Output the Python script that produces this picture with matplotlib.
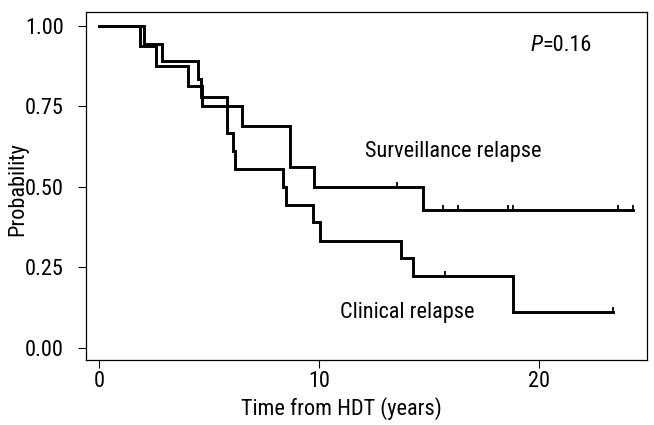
import matplotlib
matplotlib.use("Agg")
import matplotlib.pyplot as plt
import numpy as np
from matplotlib import font_manager

# Kaplan-Meier steps (years, probability after the step)
surv_times = [0, 1.86, 2.61, 4.05, 4.66, 6.52, 8.68, 9.77, 14.74, 24.25]
surv_probs = [1.0, 0.9375, 0.875, 0.8125, 0.75, 0.6875, 0.5625, 0.5, 0.4286, 0.4286]
surv_censored = [13.56, 15.62, 16.30, 18.60, 18.83, 23.60, 24.25]

clin_times = [0, 2.05, 2.88, 4.48, 4.63, 5.83, 6.08, 6.18, 8.35, 8.49,
              9.74, 10.05, 13.71, 14.29, 18.83, 23.35]
clin_probs = [1.0, 0.944, 0.889, 0.833, 0.778, 0.667, 0.611, 0.556, 0.5, 0.444,
              0.389, 0.333, 0.278, 0.222, 0.111, 0.111]
clin_censored = [15.73, 23.35]

x_ticks = [0, 10, 20]
y_ticks = [0.0, 0.25, 0.5, 0.75, 1.0]
y_ticklabels = ["0.00", "0.25", "0.50", "0.75", "1.00"]

# pick a condensed face if one is there
names = {f.name for f in font_manager.fontManager.ttflist}
family = "DejaVu Sans"
for cand in ["Liberation Sans Narrow", "Roboto Condensed", "Liberation Sans"]:
    if cand in names:
        family = cand
        break
plt.rcParams["font.family"] = family
fs = 16


def level_at(times, probs, t):
    i = np.searchsorted(times, t, side="right") - 1
    return probs[i]


fig = plt.figure(figsize=(6.54, 4.25), dpi=100)
ax = fig.add_axes([0.1315, 0.1529, 0.8578, 0.8188])

for times, probs, cens in [(surv_times, surv_probs, surv_censored),
                           (clin_times, clin_probs, clin_censored)]:
    ax.step(times, probs, where="post", color="black", lw=2.1, solid_joinstyle="miter")
    cy = [level_at(times, probs, t) for t in cens]
    ax.plot(cens, cy, linestyle="none", marker=2, ms=3.6, mew=1.3, color="black")

ax.set_xlim(-0.59, 24.9)
ax.set_ylim(-0.038, 1.0425)
ax.set_xticks(x_ticks)
ax.set_yticks(y_ticks)
ax.set_yticklabels(y_ticklabels)
ax.tick_params(direction="out", length=6, width=0.8, labelsize=fs)
ax.tick_params(axis="y", pad=10)
ax.tick_params(axis="x", pad=2)
for s in ax.spines.values():
    s.set_linewidth(0.9)

ax.set_xlabel("Time from HDT (years)", fontsize=fs)
ax.xaxis.set_label_coords(0.456, -0.106)
ax.set_ylabel("Probability", fontsize=fs)
ax.yaxis.set_label_coords(-0.103, 0.49)

ax.text(12.1, 0.608, "Surveillance relapse", fontsize=fs, va="center", ha="left")
ax.text(10.95, 0.111, "Clinical relapse", fontsize=fs, va="center", ha="left")
tp = ax.text(19.6, 0.94, "P", fontsize=fs, style="italic", va="center", ha="left")
ax.annotate("=0.16", xy=(1, 0), xycoords=tp, va="bottom", ha="left", fontsize=fs)

fig.savefig("out.png", dpi=100)
